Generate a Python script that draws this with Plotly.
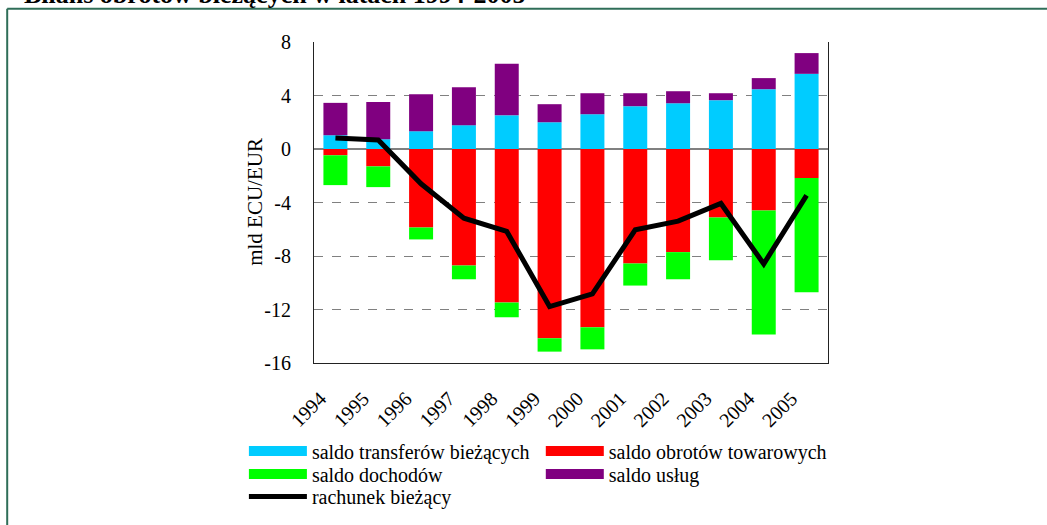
import plotly.graph_objects as go

years = ["1994", "1995", "1996", "1997", "1998", "1999", "2000", "2001", "2002", "2003", "2004", "2005"]
saldo_transferow = [1.03, 0.73, 1.33, 1.78, 2.52, 2.00, 2.60, 3.20, 3.42, 3.65, 4.47, 5.62]
saldo_obrotow_towarowych = [-0.47, -1.30, -5.87, -8.71, -11.48, -14.15, -13.33, -8.56, -7.71, -5.12, -4.59, -2.17]
saldo_dochodow = [-2.23, -1.55, -0.89, -1.03, -1.10, -1.00, -1.65, -1.65, -2.03, -3.19, -9.27, -8.54]
saldo_uslug = [2.42, 2.79, 2.77, 2.84, 3.85, 1.35, 1.57, 0.97, 0.90, 0.52, 0.83, 1.55]
rachunek_biezacy = [0.82, 0.68, -2.60, -5.17, -6.16, -11.78, -10.83, -6.04, -5.39, -4.07, -8.59, -3.47]
y_ticks = [8, 4, 0, -4, -8, -12, -16]

W, H = 1047, 525
L, R, T, B = 314.3, 828.3, 42.3, 362.7
PW, PH = R - L, B - T

def px(xp):
    return (xp - L) / PW

def py(yp):
    return (B - yp) / PH

FONT = "Liberation Serif, Times New Roman, serif"
C_TR, C_GO, C_DO, C_US = "#00CCFF", "#FF0000", "#00FF00", "#800080"

fig = go.Figure()
series = [
    ("saldo transferów bieżących", saldo_transferow, C_TR, "tr"),
    ("saldo obrotów towarowych", saldo_obrotow_towarowych, C_GO, "go"),
    ("saldo dochodów", saldo_dochodow, C_DO, "do"),
    ("saldo usług", saldo_uslug, C_US, "us"),
]
for name, vals, col, grp in series:
    fig.add_trace(go.Bar(x=years, y=vals, name=name, marker=dict(color=col, line=dict(width=0)),
                         legendgroup=grp, showlegend=False))

fig.add_trace(go.Scatter(x=years, y=rachunek_biezacy, mode="lines", name="rachunek bieżący",
                         line=dict(color="black", width=5), showlegend=False, legendgroup="rb"))

# legend entries (wide swatches), one legend box per entry for exact placement
# (name, colour, group, legend id, line width, swatch left px, row centre px)
leg_items = [
    ("saldo transferów bieżących", C_TR, "tr", "legend", 10, 249.6, 450.0),
    ("saldo obrotów towarowych", C_GO, "go", "legend2", 10, 546.5, 450.0),
    ("saldo dochodów", C_DO, "do", "legend3", 10, 249.6, 473.0),
    ("saldo usług", C_US, "us", "legend4", 10, 546.5, 473.0),
    ("rachunek bieżący", "black", "rb", "legend5", 5, 249.6, 495.5),
]
legend_layouts = {}
for name, col, grp, leg, w, lx, ly in leg_items:
    fig.add_trace(go.Scatter(x=[None], y=[None], mode="lines", name=name,
                             line=dict(color=col, width=w), legendgroup=grp,
                             legend=leg, showlegend=True))
    legend_layouts[leg] = dict(x=px(lx - 5.4), y=py(ly - 19), xanchor="left", yanchor="top",
                               font=dict(family=FONT, size=20, color="black"),
                               itemwidth=58, tracegroupgap=0, bgcolor="rgba(0,0,0,0)")

fig.update_layout(
    width=W, height=H,
    margin=dict(l=L, r=W - R, t=T, b=H - B, autoexpand=False),
    barmode="relative", bargap=0.44,
    plot_bgcolor="white", paper_bgcolor="white",
    font=dict(family=FONT, size=20, color="black"),
    xaxis=dict(type="category", tickangle=-45, showgrid=False, showline=True,
               linecolor="#222", linewidth=1, ticks="", automargin=False,
               ticklabelstandoff=15, ticklabelshift=-15,
               tickfont=dict(family=FONT, size=20, color="black")),
    yaxis=dict(range=[-16, 8], tickvals=y_ticks, ticktext=[str(v) for v in y_ticks],
               showgrid=True, gridcolor="#808080", griddash="dash", gridwidth=1.3,
               zeroline=True, zerolinecolor="#808080", zerolinewidth=1.5,
               showline=True, mirror=True, linecolor="#222", linewidth=1,
               ticks="", ticklabelstandoff=18, automargin=False,
               tickfont=dict(family=FONT, size=20, color="black")),
    showlegend=True,
    **legend_layouts,
)

fig.add_annotation(text="mld ECU/EUR", textangle=-90,
                   xref="paper", yref="paper", x=px(255.7), y=py(201.4),
                   xanchor="center", yanchor="middle", showarrow=False,
                   font=dict(family=FONT, size=21, color="black"))

fig.add_annotation(text="<b>Bilans obrotów bieżących w latach 1994-2005</b>",
                   xref="paper", yref="paper", x=px(22), y=py(11), xanchor="left", yanchor="bottom",
                   showarrow=False, font=dict(family=FONT, size=26, color="black"))

frame_col = "#2F6E58"
fig.add_shape(type="line", xref="paper", yref="paper", x0=px(7.5), x1=px(1060), y0=py(9), y1=py(9),
              line=dict(color=frame_col, width=2))
fig.add_shape(type="line", xref="paper", yref="paper", x0=px(7.5), x1=px(7.5), y0=py(9), y1=py(540),
              line=dict(color=frame_col, width=2))

fig.write_html("out.html", config={"displayModeBar": False},
               post_script="document.body.style.margin='0';document.body.style.padding='0';")
